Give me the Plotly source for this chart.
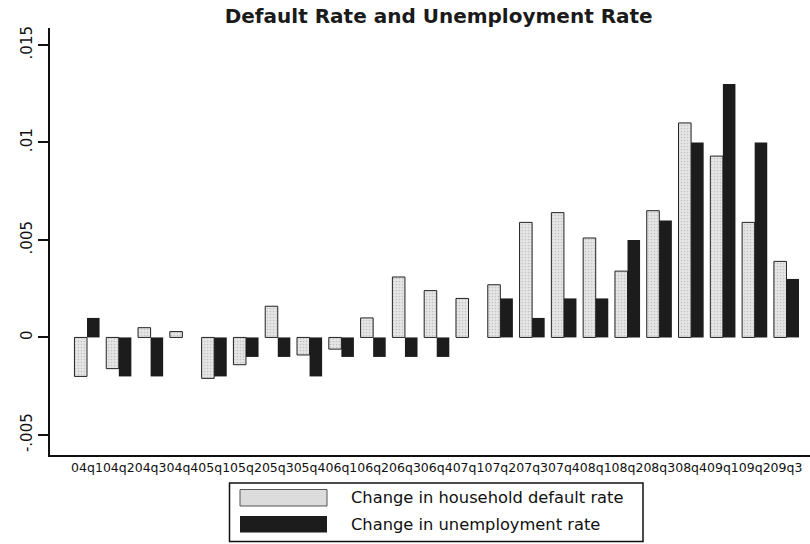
import plotly.graph_objects as go

quarters = ["04q1", "04q2", "04q3", "04q4", "05q1", "05q2", "05q3", "05q4",
            "06q1", "06q2", "06q3", "06q4", "07q1", "07q2", "07q3", "07q4",
            "08q1", "08q2", "08q3", "08q4", "09q1", "09q2", "09q3"]

default_rate_change = [-0.0020, -0.0016, 0.0005, 0.0003, -0.0021, -0.0014, 0.0016, -0.0009,
                       -0.0006, 0.0010, 0.0031, 0.0024, 0.0020, 0.0027, 0.0059, 0.0064,
                       0.0051, 0.0034, 0.0065, 0.0110, 0.0093, 0.0059, 0.0039]

unemployment_change = [0.0010, -0.0020, -0.0020, 0.0, -0.0020, -0.0010, -0.0010, -0.0020,
                       -0.0010, -0.0010, -0.0010, -0.0010, 0.0, 0.0020, 0.0010, 0.0020,
                       0.0020, 0.0050, 0.0060, 0.0100, 0.0130, 0.0100, 0.0030]

y_tick_vals = [-0.005, 0, 0.005, 0.01, 0.015]
y_tick_text = ["-.005", "0", ".005", ".01", ".015"]

legend_labels = ["Change in household default rate", "Change in unemployment rate"]

FONT = "DejaVu Sans"
W, H = 810, 544
L, R, T, B = 50, 810, 28, 455


def px_x(p):
    return (p - L) / (R - L)


def px_y(p):
    return (B - p) / (B - T)


fig = go.Figure()
fig.add_trace(go.Bar(
    x=quarters, y=default_rate_change, name=legend_labels[0],
    marker=dict(color="#e2e2e2", line=dict(color="#222", width=1),
                pattern=dict(shape=".", fgcolor="#a0a0a0", bgcolor="#e6e6e6",
                             size=3, solidity=0.25)),
    showlegend=False,
))
fig.add_trace(go.Bar(
    x=quarters, y=unemployment_change, name=legend_labels[1],
    marker=dict(color="#1c1c1c", line=dict(width=0)),
    showlegend=False,
))

shapes = [
    dict(type="rect", xref="paper", yref="paper",
         x0=px_x(229.5), x1=px_x(643), y0=px_y(541.5), y1=px_y(483),
         line=dict(color="#111", width=1.5), fillcolor="white", layer="above"),
    dict(type="rect", xref="paper", yref="paper",
         x0=px_x(240), x1=px_x(327), y0=px_y(506), y1=px_y(489.5),
         line=dict(color="#555", width=1), fillcolor="#dcdcdc", layer="above"),
    dict(type="rect", xref="paper", yref="paper",
         x0=px_x(240), x1=px_x(327), y0=px_y(532.5), y1=px_y(516),
         line=dict(color="#1c1c1c", width=0), fillcolor="#1c1c1c", layer="above"),
]

annotations = [
    dict(text=legend_labels[0], xref="paper", yref="paper",
         x=px_x(349), y=px_y(497.5), xanchor="left", yanchor="middle",
         showarrow=False, font=dict(family=FONT, size=16.3, color="#111")),
    dict(text=legend_labels[1], xref="paper", yref="paper",
         x=px_x(349), y=px_y(524), xanchor="left", yanchor="middle",
         showarrow=False, font=dict(family=FONT, size=16.3, color="#111")),
]

fig.update_layout(
    width=W, height=H,
    margin=dict(l=L, r=W - R, t=T, b=H - B, pad=0),
    paper_bgcolor="white", plot_bgcolor="white",
    barmode="group", bargap=0.21, bargroupgap=0,
    title=dict(text="Default Rate and Unemployment Rate",
               font=dict(family=FONT, size=20, color="#1a1a1a", weight="bold"),
               x=438.7 / W, xref="container", xanchor="center",
               y=1 - 16 / H, yref="container", yanchor="middle"),
    xaxis=dict(type="category", range=[-1.164, 22.74], automargin=False,
               showline=True, linecolor="#111", linewidth=2,
               ticks="", showgrid=False, zeroline=False,
               tickfont=dict(family=FONT, size=12.5, color="#111"),
               tickangle=0),
    yaxis=dict(range=[-0.00603, 0.01587], automargin=False,
               tickvals=y_tick_vals, ticktext=y_tick_text,
               showline=True, linecolor="#111", linewidth=2,
               ticks="outside", ticklen=10, tickwidth=1.5, tickcolor="#111",
               tickangle=-90, showgrid=False, zeroline=False,
               tickfont=dict(family=FONT, size=15, color="#111")),
    shapes=shapes,
    annotations=annotations,
    font=dict(family=FONT),
)

fig.write_html("out.html", config={"displayModeBar": False},
               post_script="document.body.style.margin='0px';")
